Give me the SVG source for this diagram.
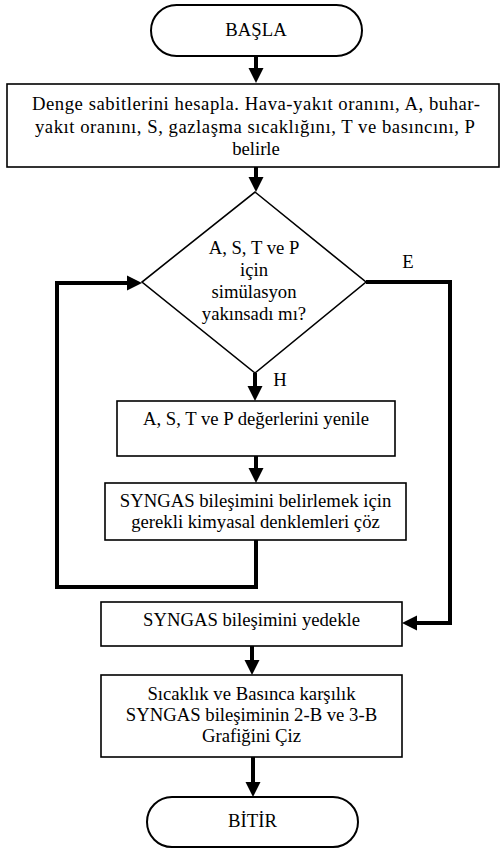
<svg xmlns="http://www.w3.org/2000/svg" width="500" height="848" viewBox="0 0 500 848">
<style>
  .t { font-family: "Liberation Serif", "Times New Roman", serif; font-size: 18.7px; fill: #000; text-anchor: middle; }
  .box { fill: #fff; stroke: #000; stroke-width: 1.6; }
  .term { fill: #fff; stroke: #000; stroke-width: 2; }
  .conn { fill: none; stroke: #000; stroke-width: 4; stroke-linejoin: miter; }
</style>
<defs>
  <marker id="ah" markerUnits="userSpaceOnUse" markerWidth="15" markerHeight="15" refX="0" refY="7.5" orient="auto" overflow="visible">
    <path d="M0,0 L15,7.5 L0,15 Z" fill="#000"/>
  </marker>
</defs>
<rect width="500" height="848" fill="#fff"/>

<g id="connectors">
  <path class="conn" d="M256,56 V68" marker-end="url(#ah)"/>
  <path class="conn" d="M256,167 V177" marker-end="url(#ah)"/>
  <path class="conn" d="M255,373 V386" marker-end="url(#ah)"/>
  <path class="conn" d="M256,456 V468" marker-end="url(#ah)"/>
  <path class="conn" d="M256,540 V587 H57 V283 H127" marker-end="url(#ah)"/>
  <path class="conn" d="M366,282 H450 V623 H417" marker-end="url(#ah)"/>
  <path class="conn" d="M252,646 V660" marker-end="url(#ah)"/>
  <path class="conn" d="M253,757 V782" marker-end="url(#ah)"/>
  <text class="t" x="408" y="268">E</text>
  <text class="t" x="280" y="386">H</text>
</g>

<g id="start">
  <rect class="term" x="151" y="5" width="211" height="51" rx="25.5" ry="25.5"/>
  <text class="t" x="256" y="36">BAŞLA</text>
</g>

<g id="init">
  <rect class="box" x="7" y="84" width="492" height="83"/>
  <text class="t" x="256" y="110" textLength="448" lengthAdjust="spacing">Denge sabitlerini hesapla. Hava-yakıt oranını, A, buhar-</text>
  <text class="t" x="255" y="132.5" textLength="440" lengthAdjust="spacing">yakıt oranını, S, gazlaşma sıcaklığını, T ve basıncını, P</text>
  <text class="t" x="256" y="155">belirle</text>
</g>

<g id="decision">
  <polygon class="box" points="255,192 366,282 255,373 142,282"/>
  <text class="t" x="254" y="254">A, S, T ve P</text>
  <text class="t" x="254" y="276">için</text>
  <text class="t" x="254" y="298">simülasyon</text>
  <text class="t" x="254" y="320">yakınsadı mı?</text>
</g>

<g id="update">
  <rect class="box" x="117" y="401" width="278" height="55"/>
  <text class="t" x="256" y="425">A, S, T ve P değerlerini yenile</text>
</g>

<g id="solve">
  <rect class="box" x="105" y="483" width="301" height="57"/>
  <text class="t" x="255.5" y="507">SYNGAS bileşimini belirlemek için</text>
  <text class="t" x="255.5" y="528">gerekli kimyasal denklemleri çöz</text>
</g>

<g id="backup">
  <rect class="box" x="101" y="602" width="301" height="44"/>
  <text class="t" x="251.5" y="626">SYNGAS bileşimini yedekle</text>
</g>

<g id="plot">
  <rect class="box" x="101" y="675" width="301" height="82"/>
  <text class="t" x="251.5" y="700">Sıcaklık ve Basınca karşılık</text>
  <text class="t" x="251.5" y="721">SYNGAS bileşiminin 2-B ve 3-B</text>
  <text class="t" x="251.5" y="742">Grafiğini Çiz</text>
</g>

<g id="end">
  <rect class="term" x="147" y="797" width="211" height="50" rx="25" ry="25"/>
  <text class="t" x="252.5" y="827">BİTİR</text>
</g>
</svg>
